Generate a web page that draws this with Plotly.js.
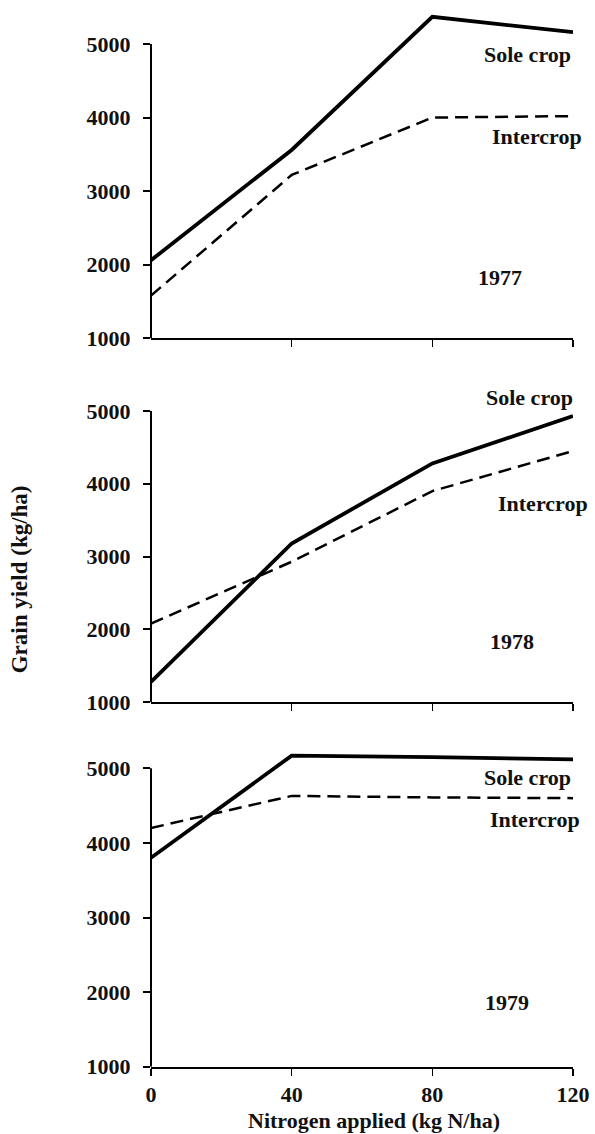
<!DOCTYPE html>
<html><head><meta charset="utf-8">
<script src="https://cdn.plot.ly/plotly-3.0.1.min.js"></script>
<style>html,body{margin:0;padding:0;background:#fff}</style>
</head><body>
<div id="chart" style="width:595px;height:1134px"></div>
<script>
const nitrogen = [0, 40, 80, 120];
const years = ["1977", "1978", "1979"];
const sole1977 = [2060, 3560, 5370, 5160];
const inter1977 = [1580, 3220, 4000, 4020];
const sole1978 = [1280, 3180, 4280, 4930];
const inter1978 = [2080, 2930, 3900, 4450];
const sole1979 = [3800, 5170, 5150, 5120];
const inter1979 = [4200, 4630, 4610, 4600];
const yTicks = [1000, 2000, 3000, 4000, 5000];
const labelSole = "Sole crop";
const labelInter = "Intercrop";

const FONT = {family: "Liberation Serif, Times New Roman, serif", size: 22, color: "#111", weight: "bold"};
const soleLine = {color: "#000", width: 3.8};
const interLine = {color: "#000", width: 2.5, dash: "13px,7px"};

const sole = [sole1977, sole1978, sole1979];
const inter = [inter1977, inter1978, inter1979];
const traces = [];
for (let i = 0; i < 3; i++) {
  const xa = i === 0 ? "x" : "x" + (i + 1);
  const ya = i === 0 ? "y" : "y" + (i + 1);
  traces.push({x: nitrogen, y: sole[i], xaxis: xa, yaxis: ya, mode: "lines", line: soleLine, name: labelSole + " " + years[i], hoverinfo: "skip"});
  traces.push({x: nitrogen, y: inter[i], xaxis: xa, yaxis: ya, mode: "lines", line: interLine, name: labelInter + " " + years[i], hoverinfo: "skip"});
}

const domains = [[0.7017, 0.9904], [0.3807, 0.6665], [0.0593, 0.3521]];
const layout = {
  width: 595, height: 1134,
  margin: {l: 151, r: 22, t: 0, b: 0},
  paper_bgcolor: "#fff", plot_bgcolor: "#fff",
  showlegend: false,
  font: FONT,
  shapes: [], annotations: []
};
for (let i = 0; i < 3; i++) {
  const sx = i === 0 ? "" : String(i + 1);
  layout["xaxis" + sx] = {
    domain: [0, 1], range: [0, 120], anchor: "y" + sx,
    showgrid: false, zeroline: false, showline: true, linecolor: "#000", linewidth: 2,
    ticks: "outside", ticklen: 7, tickwidth: 1.5, tickcolor: "#000",
    tickvals: i === 2 ? nitrogen : nitrogen.slice(1),
    ticktext: (i === 2 ? nitrogen : nitrogen.slice(1)).map(String),
    showticklabels: i === 2, tickfont: FONT, fixedrange: true
  };
  layout["yaxis" + sx] = {
    domain: domains[i], range: [1000, 5450], anchor: "x" + sx,
    showgrid: false, zeroline: false, showline: false,
    ticks: "outside", ticklen: 7, tickwidth: 2, tickcolor: "#000",
    tickvals: yTicks, ticktext: yTicks.map(String),
    tickfont: FONT, ticklabelstandoff: 8, fixedrange: true
  };
  layout.shapes.push({type: "line", xref: "x" + sx + " domain", yref: "y" + sx, x0: 0, x1: 0, y0: 1000, y1: 5000, line: {color: "#000", width: 2}});
}

const annPos = [
  [[0.891, 0.9515], [0.915, 0.8792], [0.827, 0.7549]],
  [[0.898, 0.6499], [0.929, 0.5564], [0.855, 0.4339]],
  [[0.891, 0.3148], [0.910, 0.2769], [0.844, 0.1164]]
];
for (let i = 0; i < 3; i++) {
  const texts = [labelSole, labelInter, years[i]];
  for (let k = 0; k < 3; k++) {
    layout.annotations.push({xref: "paper", yref: "paper", x: annPos[i][k][0], y: annPos[i][k][1], xanchor: "center", yanchor: "middle", text: texts[k], showarrow: false, font: FONT});
  }
}
layout.annotations.push({xref: "paper", yref: "paper", x: -0.312, y: 1 - 579 / 1134, xanchor: "center", yanchor: "middle", textangle: -90, text: "Grain yield (kg/ha)", showarrow: false, font: Object.assign({}, FONT, {size: 23})});
layout.annotations.push({xref: "paper", yref: "paper", x: 0.528, y: 0, xanchor: "center", yanchor: "bottom", borderpad: 0, text: "Nitrogen applied (kg N/ha)", showarrow: false, font: FONT});

Plotly.newPlot("chart", traces, layout, {staticPlot: true, displayModeBar: false});
</script>
</body></html>
